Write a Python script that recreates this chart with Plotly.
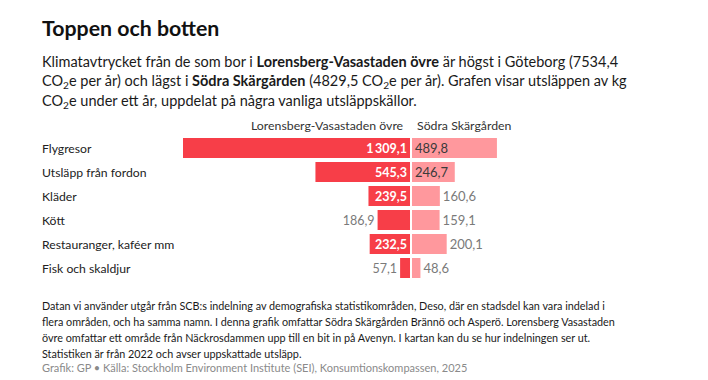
import plotly.graph_objects as go

categories = ["Flygresor", "Utsläpp från fordon", "Kläder", "Kött",
              "Restauranger, kaféer mm", "Fisk och skaldjur"]
lorensberg = [1309.1, 545.3, 239.5, 186.9, 232.5, 57.1]
sodra = [489.8, 246.7, 160.6, 159.1, 200.1, 48.6]
series_names = ["Lorensberg-Vasastaden övre", "Södra Skärgården"]

OFF = 8  # default page body margin
W, H = 708 - OFF, 380 - OFF
K = 0.1734  # px per unit
FONT = "Lato"

def fmt(v):
    s = f"{v:,.1f}"
    return s.replace(",", "\u2009").replace(".", ",")

def px(x):
    return (x - OFF) / W

def py(y):
    return 1 - (y - OFF) / H

RED = "#F73E48"
PINK = "#FF989D"

left_inside = [v >= 200 for v in lorensberg]
right_inside = [v >= 240 for v in sodra]

fig = go.Figure()
fig.add_trace(go.Bar(
    y=categories, x=lorensberg, orientation="h", xaxis="x", yaxis="y",
    marker=dict(color=RED, line=dict(width=0)),
    text=[fmt(v) for v in lorensberg],
    textposition=["inside" if i else "outside" for i in left_inside],
    insidetextanchor="start", constraintext="none", cliponaxis=False,
    textfont=dict(family=FONT, size=12.5,
                  color=["white" if i else "#7a7a7a" for i in left_inside],
                  weight=[700 if i else 400 for i in left_inside]),
    hoverinfo="skip", showlegend=False,
))
fig.add_trace(go.Bar(
    y=categories, x=sodra, orientation="h", xaxis="x2", yaxis="y",
    marker=dict(color=PINK, line=dict(width=0)),
    text=[fmt(v) for v in sodra],
    textposition=["inside" if i else "outside" for i in right_inside],
    insidetextanchor="start", constraintext="none", cliponaxis=False,
    textfont=dict(family=FONT, size=13,
                  color=["#3a3a3a" if i else "#7a7a7a" for i in right_inside]),
    hoverinfo="skip", showlegend=False,
))

left_l, left_r = 150, 410
right_l, right_r = 412, 680
top, bottom = 136, 280

fig.update_layout(
    width=W, height=H, margin=dict(l=0, r=0, t=0, b=0),
    paper_bgcolor="white", plot_bgcolor="white",
    bargap=4 / 24,
    font=dict(family=FONT, color="#1a1a1a"),
    xaxis=dict(domain=[px(left_l), px(left_r)], range=[(left_r - left_l) / K, 0],
               visible=False, fixedrange=True),
    xaxis2=dict(domain=[px(right_l), px(right_r)], range=[0, (right_r - right_l) / K],
                visible=False, fixedrange=True),
    yaxis=dict(domain=[py(bottom), py(top)], autorange="reversed",
               visible=False, fixedrange=True),
)

ann = []

def text_at(x, y, text, size, color, anchor="left"):
    ann.append(dict(x=px(x), y=py(y), xref="paper", yref="paper", xanchor=anchor,
                    yanchor="middle", text=text, showarrow=False,
                    font=dict(family=FONT, size=size, color=color)))

text_at(40, 28, "<b>Toppen och botten</b>", 21.3, "#111111")
subtitle_lines = [
    "Klimatavtrycket från de som bor i <b>Lorensberg-Vasastaden övre</b> är högst i Göteborg (7534,4",
    "CO<sub>2</sub>e per år) och lägst i <b>Södra Skärgården</b> (4829,5 CO<sub>2</sub>e per år). Grafen visar utsläppen av kg",
    "CO<sub>2</sub>e under ett år, uppdelat på några vanliga utsläppskällor.",
]
for i, line in enumerate(subtitle_lines):
    text_at(40, 62 + 19.5 * i, line, 14.5, "#1a1a1a")

text_at(406, 126, series_names[0], 12.3, "#333333", anchor="right")
text_at(415, 126, series_names[1], 12.3, "#333333")

for c in categories:
    ann.append(dict(x=px(40), y=c, xref="paper", yref="y", xanchor="left", yanchor="middle",
                    text=c, showarrow=False,
                    font=dict(family=FONT, size=12.2, color="#222222")))

note_lines = [
    "Datan vi använder utgår från SCB:s indelning av demografiska statistikområden, Deso, där en stadsdel kan vara indelad i",
    "flera områden, och ha samma namn. I denna grafik omfattar Södra Skärgården Brännö och Asperö. Lorensberg Vasastaden",
    "övre omfattar ett område från Näckrosdammen upp till en bit in på Avenyn. I kartan kan du se hur indelningen ser ut.",
    "Statistiken är från 2022 och avser uppskattade utsläpp.",
]
for i, line in enumerate(note_lines):
    text_at(40, 305 + 16 * i, line, 10.8, "#1a1a1a")

text_at(40, 367, "Grafik: GP • Källa: Stockholm Environment Institute (SEI), Konsumtionskompassen, 2025",
        11, "#8a8a8a")
fig.update_layout(annotations=ann)

fig.write_html("out.html")
